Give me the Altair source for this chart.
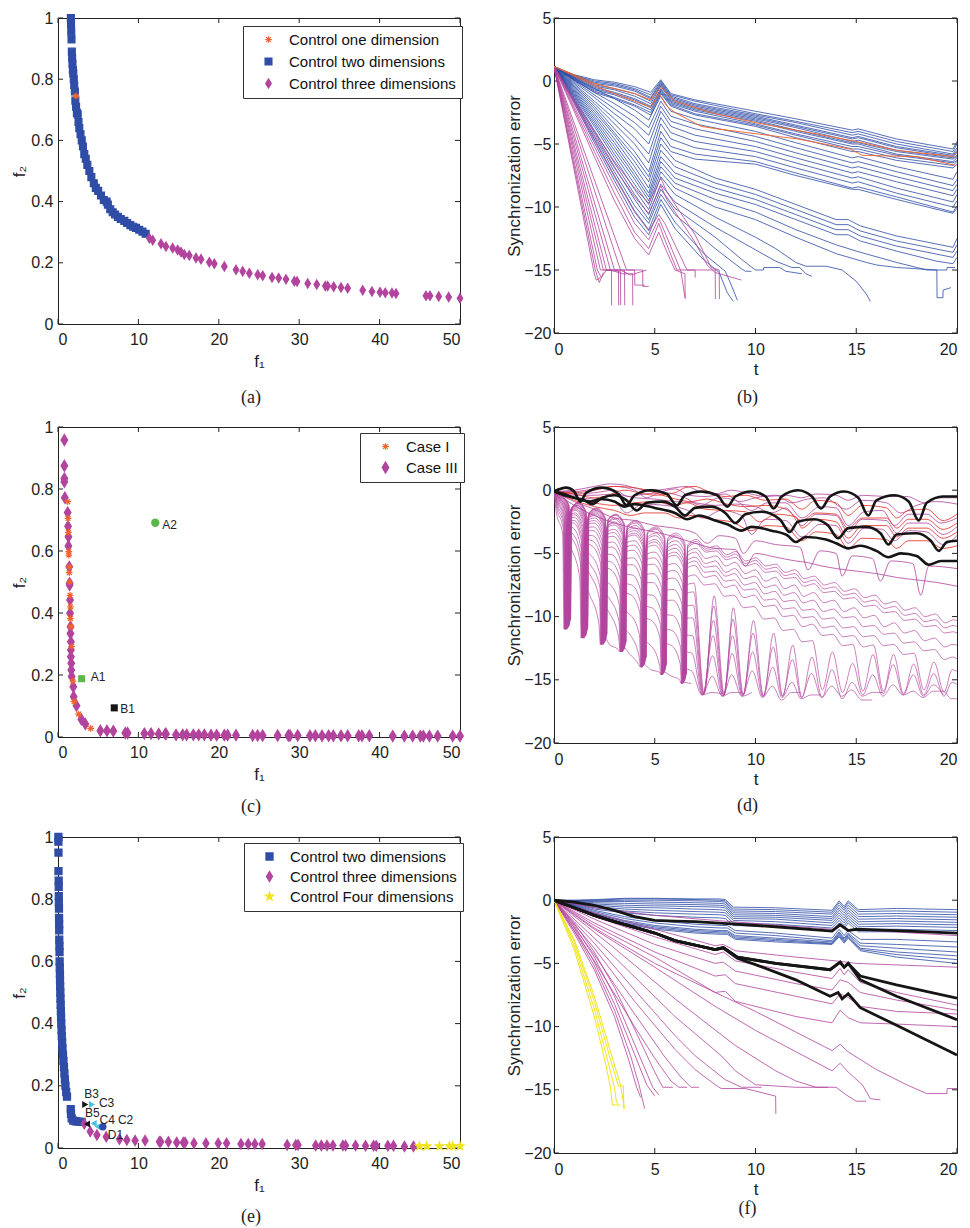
import altair as alt
import pandas as pd

FONT = "Liberation Sans"
SERIF = "Liberation Serif"
INK = "#222222"

BLUE = "#2F4DA6"
MAGENTA = "#B2449D"
ORANGE = "#F0642C"
RED = "#E5352B"
BLACK = "#151515"
YELLOW = "#F0E31C"
GREEN = "#5DB84B"
CYAN = "#4CC3DB"

DIAMOND = "M0,-1.3L0.78,0L0,1.3L-0.78,0Z"
ASTERISK = "M-1,0L1,0M0,-1L0,1M-0.72,-0.72L0.72,0.72M-0.72,0.72L0.72,-0.72"
STAR = "M0,-1L0.23,-0.32L0.95,-0.31L0.37,0.12L0.59,0.81L0,0.4L-0.59,0.81L-0.37,0.12L-0.95,-0.31L-0.23,-0.32Z"

F1_TICKS = [0, 10, 20, 30, 40, 50]
F2_TICKS = [0, 0.2, 0.4, 0.6, 0.8, 1]
T_TICKS = [0, 5, 10, 15, 20]
E_TICKS = [-20, -15, -10, -5, 0, 5]

# ---------------- (a) Pareto fronts by number of controlled dimensions ----------------
A_ONE_F1 = [2.24]
A_ONE_F2 = [0.745]
A_TWO_F1 = [1.60, 1.62, 1.65, 1.68, 1.72, 1.76, 1.80, 1.85, 1.90, 1.96, 2.02, 2.10, 2.16, 2.25,
            2.35, 2.45, 2.55, 2.65, 2.80, 2.95, 3.10, 3.27, 3.45, 3.65, 3.90, 4.15, 4.45, 4.70,
            5.00, 5.35, 5.70, 6.05, 6.20, 6.50, 6.80, 7.10, 7.45, 7.80, 8.25, 8.60, 9.00, 9.35,
            9.70, 10.10, 10.50, 10.90]
A_TWO_F2 = [1.00, 0.98, 0.955, 0.93, 0.89, 0.87, 0.85, 0.83, 0.82, 0.80, 0.78, 0.76, 0.73, 0.71,
            0.69, 0.685, 0.66, 0.64, 0.62, 0.60, 0.58, 0.555, 0.54, 0.52, 0.50, 0.48, 0.46, 0.445,
            0.435, 0.42, 0.405, 0.40, 0.39, 0.375, 0.365, 0.358, 0.35, 0.343, 0.337, 0.33, 0.323,
            0.318, 0.314, 0.308, 0.302, 0.295]
A_THREE_F1 = [11.36, 11.78, 12.81, 13.43, 14.26, 14.88, 15.30, 15.71, 16.33, 17.16, 17.79, 18.82,
              19.44, 20.69, 22.14, 22.97, 23.80, 24.84, 25.46, 26.62, 27.45, 28.36, 29.39, 29.73,
              31.06, 32.18, 33.25, 33.54, 34.29, 35.20, 36.03, 37.90, 39.05, 40.05, 40.71, 41.54,
              42.04, 45.77, 46.27, 47.35, 48.59, 50.00]
A_THREE_F2 = [0.280, 0.274, 0.262, 0.253, 0.248, 0.242, 0.235, 0.227, 0.224, 0.216, 0.212, 0.202,
              0.197, 0.188, 0.177, 0.172, 0.166, 0.161, 0.158, 0.152, 0.150, 0.146, 0.140, 0.139,
              0.132, 0.129, 0.124, 0.124, 0.122, 0.119, 0.117, 0.110, 0.106, 0.104, 0.102, 0.101,
              0.100, 0.092, 0.092, 0.090, 0.088, 0.084]

# ---------------- (c) Case I vs Case III ----------------
C_ONE_F1 = [1.20, 1.25, 1.30, 1.35, 1.35, 1.40, 1.40, 1.45, 1.50, 1.55, 1.55, 1.60, 1.70, 1.85,
            2.00, 2.57, 4.06]
C_ONE_F2 = [0.759, 0.705, 0.660, 0.598, 0.587, 0.549, 0.530, 0.500, 0.457, 0.420, 0.382, 0.356,
            0.292, 0.180, 0.114, 0.074, 0.028]
C_THREE_F1 = [0.79, 0.79, 0.79, 0.79, 0.85, 1.20, 1.25, 1.30, 1.30, 1.40, 1.45, 1.45, 1.50, 1.50,
              1.55, 1.55, 1.60, 1.60, 1.60, 1.65, 1.65, 1.70, 1.90, 1.95, 2.30, 2.90, 3.40,
              5.27, 6.09, 6.88, 8.37, 8.66, 10.74, 11.57, 12.52, 13.35, 13.43, 14.68, 15.51, 16.00,
              16.83, 17.50, 18.20, 19.03, 19.73, 20.69, 21.10, 22.14, 24.21, 24.83, 25.45, 27.32,
              28.65, 28.86, 29.81, 31.34, 32.01, 32.84, 33.66, 34.25, 35.20, 36.03, 37.40, 37.81,
              38.72, 41.63, 43.08, 44.11, 45.07, 45.44, 46.19, 47.22, 49.09, 50.00]
C_THREE_F2 = [0.958, 0.875, 0.834, 0.823, 0.772, 0.724, 0.680, 0.646, 0.616, 0.549, 0.496, 0.490,
              0.442, 0.399, 0.356, 0.334, 0.307, 0.281, 0.259, 0.238, 0.216, 0.195, 0.162, 0.130,
              0.101, 0.057, 0.042,
              0.020, 0.020, 0.019, 0.013, 0.013, 0.011, 0.011, 0.010, 0.010, 0.010, 0.007, 0.007,
              0.007, 0.007, 0.007, 0.007, 0.006, 0.006, 0.006, 0.006, 0.006, 0.005, 0.005, 0.005,
              0.005, 0.005, 0.005, 0.005, 0.004, 0.004, 0.004, 0.004, 0.004, 0.004, 0.004, 0.004,
              0.004, 0.004, 0.003, 0.003, 0.003, 0.003, 0.003, 0.003, 0.003, 0.003, 0.003]
C_A1 = (2.94, 0.188)
C_A2 = (12.10, 0.691)
C_B1 = (7.00, 0.094)

# ---------------- (e) two / three / four controlled dimensions ----------------
E_TWO_F1 = [0.05, 0.05, 0.06, 0.06, 0.08, 0.09, 0.10, 0.11, 0.12, 0.13, 0.14, 0.15, 0.16, 0.18,
            0.19, 0.20, 0.22, 0.24, 0.25, 0.27, 0.29, 0.31, 0.33, 0.36, 0.38, 0.41, 0.44, 0.47,
            0.52, 0.56, 0.62, 0.68, 0.74, 0.80, 0.86, 0.93, 1.02, 1.12, 1.58, 1.62, 1.70, 1.90,
            2.20, 2.55, 2.95]
E_TWO_F2 = [1.00, 0.985, 0.95, 0.89, 0.86, 0.84, 0.81, 0.79, 0.77, 0.74, 0.72, 0.70, 0.67, 0.65,
            0.63, 0.60, 0.58, 0.56, 0.54, 0.52, 0.50, 0.48, 0.46, 0.44, 0.42, 0.40, 0.38, 0.36,
            0.34, 0.32, 0.30, 0.28, 0.26, 0.24, 0.22, 0.20, 0.18, 0.165, 0.125, 0.11, 0.095, 0.088,
            0.086, 0.085, 0.084]
E_THREE_F1 = [3.27, 4.01, 4.84, 6.00, 7.65, 8.56, 9.59, 10.83, 12.61, 12.78, 13.73, 14.76, 15.59,
              15.80, 16.91, 18.40, 19.93, 20.97, 22.75, 23.66, 24.48, 25.39, 28.50, 29.57, 29.86,
              32.05, 32.75, 33.46, 34.20, 35.44, 35.77, 37.01, 38.25, 39.25, 39.58, 41.03, 41.73,
              43.09, 44.21]
E_THREE_F2 = [0.078, 0.053, 0.042, 0.036, 0.028, 0.026, 0.024, 0.024, 0.020, 0.020, 0.020, 0.018,
              0.018, 0.018, 0.015, 0.015, 0.015, 0.015, 0.013, 0.013, 0.013, 0.013, 0.010, 0.010,
              0.010, 0.008, 0.008, 0.008, 0.008, 0.008, 0.008, 0.008, 0.007, 0.007, 0.007, 0.007,
              0.007, 0.005, 0.005]
E_FOUR_F1 = [44.96, 45.87, 47.44, 48.68, 49.09, 50.00]
E_FOUR_F2 = [0.006, 0.006, 0.006, 0.006, 0.006, 0.006]
E_MARKS = {
    "B3": (3.39, 0.140), "C3": (4.22, 0.140), "B5": (3.60, 0.077),
    "C4": (4.43, 0.079), "C2": (4.96, 0.068), "D1": (5.58, 0.068),
}

# ---------------- (b) synchronization error traces ----------------
B_BLUE = [
    [(0, 1.15), (1, 0.5), (2, 0.1), (3, -0.1), (4, -0.45), (4.8, -0.9), (5.3, 0.1), (5.8, -1.0), (7, -1.5), (10, -2.4), (12, -3.0), (14.8, -3.9), (15.1, -3.8), (17, -4.6), (19.8, -5.4), (20, -4.8)],
    [(0, 1.15), (1, 0.45), (2, 0.0), (3, -0.2), (4, -0.6), (4.8, -1.1), (5.3, 0.0), (5.8, -1.1), (7, -1.6), (10, -2.6), (12, -3.2), (14.8, -4.1), (15.1, -4.0), (17, -4.8), (19.8, -5.6), (20, -5.0)],
    [(0, 1.15), (1, 0.42), (2, -0.1), (3, -0.3), (4, -0.7), (4.8, -1.3), (5.3, -0.1), (5.8, -1.2), (7, -1.8), (10, -2.7), (12, -3.3), (14.8, -4.3), (15.1, -4.2), (17, -5.0), (19.8, -5.8), (20, -5.3)],
    [(0, 1.15), (1, 0.38), (2, -0.2), (3, -0.4), (4, -0.8), (4.8, -1.4), (5.3, -0.2), (5.8, -1.3), (7, -1.9), (10, -2.8), (12, -3.5), (14.8, -4.5), (15.1, -4.4), (17, -5.2), (19.8, -5.9), (20, -5.5)],
    [(0, 1.15), (1, 0.35), (2, -0.3), (3, -0.6), (4, -1.0), (4.8, -1.6), (5.3, -0.3), (5.8, -1.4), (7, -2.0), (10, -2.9), (12, -3.6), (14.8, -4.6), (15.1, -4.5), (17, -5.3), (19.8, -6.0), (20, -5.7)],
    [(0, 1.15), (1, 0.3), (2, -0.4), (3, -0.7), (4, -1.2), (4.8, -1.8), (5.3, -0.4), (5.8, -1.5), (7, -2.1), (10, -3.0), (12, -3.7), (14.8, -4.8), (15.1, -4.7), (17, -5.5), (19.8, -6.1), (20, -5.9)],
    [(0, 1.15), (1, 0.25), (2, -0.5), (3, -0.9), (4, -1.4), (4.8, -2.0), (5.3, -0.6), (5.8, -1.6), (7, -2.2), (10, -3.1), (12, -3.9), (14.8, -4.9), (15.1, -4.9), (17, -5.6), (19.8, -6.2), (20, -6.0)],
    [(0, 1.15), (1, 0.2), (2, -0.6), (3, -1.0), (4, -1.5), (4.8, -2.1), (5.3, -0.7), (5.8, -1.7), (7, -2.3), (10, -3.2), (12, -4.0), (14.8, -5.0), (15.1, -5.0), (17, -5.8), (19.8, -6.4), (20, -6.1)],
    [(0, 1.15), (1, 0.15), (2, -0.7), (3, -1.1), (4, -1.7), (4.8, -2.3), (5.3, -0.8), (5.8, -1.8), (7, -2.4), (10, -3.4), (12, -4.2), (14.8, -5.2), (15.1, -5.2), (17, -5.9), (19.8, -6.5), (20, -6.3)],
    [(0, 1.15), (1, 0.1), (2, -0.8), (3, -1.3), (4, -1.9), (4.8, -2.5), (5.3, -0.9), (5.8, -1.9), (7, -2.6), (10, -3.5), (12, -4.3), (14.8, -5.4), (15.1, -5.4), (17, -6.1), (19.8, -6.7), (20, -6.4)],
    [(0, 1.15), (1, 0.05), (2, -0.9), (3, -1.4), (4, -2.0), (4.8, -2.7), (5.3, -1.0), (5.8, -2.0), (7, -2.7), (10, -3.6), (12, -4.5), (14.8, -5.6), (15.1, -5.6), (17, -6.3), (19.8, -6.9), (20, -6.6)],
    [(0, 1.15), (1, 0.2), (2, -0.6), (3, -1.4), (4, -2.3), (4.7, -3.1), (5.3, -1.2), (5.8, -2.4), (7, -3.0), (10, -4.0), (12, -4.9), (14.8, -6.1), (15.1, -6.0), (17, -6.8), (19.8, -7.8), (20, -7.2)],
    [(0, 1.15), (1, 0.1), (2, -0.9), (3, -1.8), (4, -2.8), (4.7, -3.7), (5.3, -1.6), (5.8, -2.8), (7, -3.4), (10, -4.4), (12, -5.3), (14.8, -6.5), (15.1, -6.4), (17, -7.2), (19.8, -8.3), (20, -7.8)],
    [(0, 1.15), (1, 0.0), (2, -1.1), (3, -2.2), (4, -3.3), (4.7, -4.3), (5.3, -2.0), (5.8, -3.2), (7, -3.8), (10, -4.8), (12, -5.7), (14.8, -6.9), (15.1, -6.8), (17, -7.6), (19.8, -8.7), (20, -8.2)],
    [(0, 1.15), (1, -0.1), (2, -1.3), (3, -2.6), (4, -3.8), (4.7, -5.0), (5.3, -2.4), (5.8, -3.6), (7, -4.3), (10, -5.2), (12, -6.1), (14.8, -7.3), (15.1, -7.2), (17, -8.0), (19.8, -9.1), (20, -8.6)],
    [(0, 1.15), (1, -0.2), (2, -1.6), (3, -3.0), (4, -4.5), (4.7, -5.8), (5.3, -2.9), (5.8, -4.1), (7, -4.8), (10, -5.6), (12, -6.5), (14.8, -7.7), (15.1, -7.6), (17, -8.5), (19.8, -9.6), (20, -9.0)],
    [(0, 1.15), (1, -0.3), (2, -1.8), (3, -3.4), (4, -5.0), (4.7, -6.5), (5.3, -3.4), (5.8, -4.6), (7, -5.3), (10, -6.0), (12, -6.9), (14.8, -8.1), (15.1, -8.0), (17, -8.9), (19.8, -10.0), (20, -9.5)],
    [(0, 1.15), (1, -0.4), (2, -2.0), (3, -3.8), (4, -5.6), (4.7, -7.2), (5.3, -4.0), (5.8, -5.2), (7, -5.8), (10, -6.4), (12, -7.3), (14.8, -8.5), (15.1, -8.4), (17, -9.2), (19.8, -10.4), (20, -9.9)],
    [(0, 1.15), (1, -0.5), (2, -2.2), (3, -4.1), (4, -6.0), (4.7, -7.6), (5.3, -4.5), (5.8, -5.6), (7, -6.2), (10, -6.6), (12, -7.5), (14.8, -8.6), (15.1, -8.6), (17, -9.4), (19.8, -10.5), (20, -10.1)],
    [(0, 1.15), (1, -0.6), (2, -2.4), (3, -4.3), (4, -6.4), (4.7, -8.0), (5.3, -5.0), (6, -6.3), (8, -7.7), (10, -8.6), (12, -9.8), (14, -11.0), (14.6, -11.0), (15.2, -11.5), (17, -12.3), (19.8, -13.2), (20, -12.5)],
    [(0, 1.15), (1, -0.7), (2, -2.6), (3, -4.6), (4, -6.8), (4.7, -8.5), (5.3, -5.5), (6, -6.8), (8, -8.1), (10, -9.0), (12, -10.2), (14, -11.4), (14.6, -11.4), (15.2, -11.9), (17, -12.7), (19.8, -13.6), (20, -13.0)],
    [(0, 1.15), (1, -0.8), (2, -2.8), (3, -4.9), (4, -7.2), (4.7, -8.9), (5.3, -6.0), (6, -7.3), (8, -8.5), (10, -9.4), (12, -10.6), (14, -11.8), (14.6, -11.8), (15.2, -12.3), (17, -13.1), (19.8, -14.0), (20, -13.5)],
    [(0, 1.15), (1, -0.9), (2, -3.0), (3, -5.2), (4, -7.5), (4.7, -9.2), (5.3, -6.4), (6, -7.7), (8, -8.9), (10, -9.8), (12, -11.0), (14, -12.2), (14.6, -12.2), (15.2, -12.7), (17, -13.5), (19, -14.3), (19.8, -14.5), (20, -14.0)],
    [(0, 1.15), (1, -1.0), (2, -3.2), (3, -5.5), (4, -7.8), (4.7, -9.5), (5.3, -6.8), (6, -8.1), (8, -9.4), (10, -10.4), (12, -11.8), (14, -13.0), (15, -13.5), (17, -14.4), (18, -14.8), (18.5, -15.0), (19.5, -15.0), (19.51, -14.8), (19.9, -14.8)],
    [(0, 1.15), (1, -1.1), (2, -3.4), (3, -5.8), (4, -8.2), (4.7, -9.8), (5.3, -7.2), (6, -8.5), (8, -10.0), (10, -11.0), (12, -12.4), (14, -13.7), (15.5, -14.4), (16, -14.6), (17, -14.8), (19, -15.0), (19.01, -17.2), (19.3, -17.2), (19.31, -16.6), (19.7, -16.4)],
    [(0, 1.15), (1, -1.2), (2, -3.6), (3, -6.1), (4, -8.6), (4.7, -10.2), (5.3, -7.6), (6, -9.0), (8, -10.8), (10, -12.4), (11, -13.3), (12, -14.4), (12.5, -14.7), (13.5, -14.7), (14.3, -15.0), (15, -15.9), (15.5, -16.9), (15.7, -17.5)],
    [(0, 1.15), (1, -1.3), (2, -3.9), (3, -6.5), (4, -9.0), (4.7, -10.6), (5.3, -8.2), (6, -9.6), (8, -11.6), (10, -13.4), (11, -14.3), (11.8, -14.8), (12.2, -14.8), (12.5, -15.3), (12.8, -15.5)],
    [(0, 1.15), (1, -1.4), (2, -4.1), (3, -6.8), (4, -9.4), (4.7, -11.0), (5.3, -8.6), (6, -10.1), (8, -12.4), (9.5, -14.4), (10, -15.0), (10.4, -15.0), (10.41, -14.8), (11.2, -14.8), (11.5, -15.1), (12.3, -15.3)],
    [(0, 1.15), (1, -1.5), (2, -4.4), (3, -7.2), (4, -9.9), (4.7, -11.3), (5.3, -9.0), (6, -10.6), (8, -13.3), (9.3, -14.9), (9.5, -15.1), (9.8, -15.1)],
    [(0, 1.15), (1, -1.6), (2, -4.6), (3, -7.5), (4, -10.3), (4.7, -11.8), (5.3, -9.4), (6, -11.2), (7.5, -13.8), (8.5, -15.1), (8.8, -16.2), (9.1, -17.4)],
    [(0, 1.15), (1, -1.7), (2, -4.9), (3, -7.9), (4, -10.8), (4.7, -12.2), (5.3, -9.8), (6, -11.7), (7.3, -14.0), (8.2, -15.2), (8.6, -16.8), (8.9, -17.5)],
]
B_ORANGE = [
    [(0, 1.15), (1, 0.4), (1.9, -0.3), (3, -1.0), (4, -1.6), (4.8, -2.1), (5.2, -1.0), (5.6, -2.0), (6, -2.5), (7.3, -3.6), (8.1, -3.8), (10.1, -4.2), (12.1, -4.6), (14.7, -5.4), (15.3, -5.9), (18, -6.0), (19.95, -6.7)],
    [(0, 1.15), (2, -0.2), (4, -1.0), (4.8, -1.5), (5.3, -0.5), (6, -1.6), (8, -2.6), (10, -3.3), (12, -3.9), (15, -4.8), (17, -5.5), (19.8, -6.0), (20, -5.6)],
]
B_MAGENTA = [
    [(0, 1.15), (2.0, -15.3), (2.1, -15.8), (2.3, -15.6)],
    [(0, 1.15), (2.05, -15.0), (2.25, -16.0), (2.45, -15.2)],
    [(0, 1.15), (2.15, -15.0), (2.35, -15.6), (2.6, -15.0), (2.85, -15.0), (2.86, -17.8)],
    [(0, 1.15), (2.3, -15.0), (3.2, -15.0), (3.21, -17.8)],
    [(0, 1.15), (2.45, -15.0), (3.3, -15.1), (3.31, -17.8)],
    [(0, 1.15), (2.6, -15.0), (3.5, -15.0), (3.51, -17.8)],
    [(0, 1.15), (2.8, -15.0), (3.4, -15.3), (3.9, -15.3), (3.91, -17.8)],
    [(0, 1.15), (3.0, -15.0), (4.0, -15.0), (4.01, -16.2), (4.5, -16.2)],
    [(0, 1.15), (3.3, -15.0), (3.8, -15.4), (4.6, -15.0)],
    [(0, 1.15), (3.6, -15.0), (4.4, -15.0), (4.41, -16.3), (4.7, -16.3)],
    [(0, 1.15), (1, -2.4), (2, -6.0), (3, -9.5), (4, -12.5), (4.7, -13.8), (5.2, -12.0), (5.5, -13.2), (6.0, -15.0), (6.5, -15.3), (6.51, -17.3)],
    [(0, 1.15), (1, -2.2), (2, -5.6), (3, -8.9), (4, -12.0), (4.7, -13.3), (5.2, -11.3), (5.5, -12.6), (6.1, -15.0), (7.0, -15.0), (7.01, -15.6)],
    [(0, 1.15), (1, -2.0), (2, -5.2), (3, -8.3), (4, -11.3), (4.7, -12.6), (5.2, -10.9), (5.5, -12.0), (6.3, -15.1), (6.5, -17.2)],
    [(0, 1.15), (1, -1.8), (2, -4.7), (3, -7.6), (4, -10.4), (4.7, -11.9), (5.2, -10.6), (5.5, -11.3), (6.6, -15.0), (8.0, -15.0), (8.01, -17.3)],
    [(0, 1.15), (1, -1.5), (2, -4.0), (3, -6.4), (4, -8.5), (4.7, -9.7), (5.3, -7.7), (5.6, -8.8), (7, -12.2), (7.8, -14.8), (8.2, -15.0), (8.21, -17.3)],
    [(0, 1.15), (1, -1.6), (2, -4.3), (3, -6.9), (4, -9.2), (4.7, -10.5), (5.3, -8.3), (5.6, -9.4), (7, -12.8), (7.6, -14.6), (8.0, -15.2), (9.3, -15.8)],
]

# ---------------- (d) oscillating error traces ----------------
# early part: arc tops, sharp zeros of the oscillation and the shoulders either side of them
D_HEAD_T = [0, 0.3, 0.63, 0.7, 0.77, 1.1, 1.48, 1.55, 1.62, 2.0, 2.43, 2.5, 2.57, 2.95, 3.38,
            3.45, 3.52, 3.95, 4.38, 4.45, 4.52, 4.95, 5.38, 5.45, 5.52, 5.95, 6.38, 6.45, 6.52,
            6.95]
D_TAIL_T = [7.45, 7.95, 8.45, 8.9, 9.4, 9.9, 10.4, 10.9, 11.35, 11.85, 12.3, 12.8, 13.3, 13.8,
            14.3, 14.8, 15.3, 15.8, 16.3, 16.8, 17.3, 17.8, 18.3, 18.8, 19.3, 19.7, 20.0]
# tops and zeros on the grid 0, 0.3, 0.7, 1.1, 1.55, ... 6.95, followed by the later samples
D_FAN = [
    [-0.1, -0.45, -10.2, -0.95, -10.9, -1.4, -11.4, -1.9, -12.0, -2.4, -13.2, -2.9, -13.8, -3.4, -14.5, -3.9, -4.6, -4.4, -5.1, -4.85, -5.6, -5.35, -6.0, -5.85, -6.5, -6.3, -7.0, -6.8, -7.5, -7.3, -8.0, -7.8, -8.5, -8.3, -9.0, -8.8, -9.5, -9.3, -10.0, -9.8, -10.5, -10.25, -10.4],
    [-0.1, -0.5, -10.3, -1.0, -11.0, -1.5, -11.5, -2.0, -12.1, -2.6, -13.3, -3.1, -13.9, -3.7, -14.6, -4.2, -4.9, -4.8, -5.5, -5.3, -6.0, -5.8, -6.5, -6.4, -7.0, -6.9, -7.6, -7.4, -8.1, -8.0, -8.6, -8.5, -9.2, -9.1, -9.7, -9.6, -10.3, -10.2, -10.8, -10.7, -11.3, -11.2, -11.4],
    [-0.1, -0.5, -10.4, -1.05, -11.1, -1.6, -11.6, -2.2, -12.2, -2.8, -13.4, -3.4, -14.0, -4.0, -14.7, -4.6, -5.4, -5.2, -6.0, -5.7, -6.6, -6.3, -7.2, -6.9, -7.8, -7.5, -8.4, -8.1, -8.9, -8.7, -9.6, -9.3, -10.1, -9.9, -10.8, -10.5, -11.3, -11.1, -11.9, -11.7, -12.4, -12.2, -12.3],
    [-0.1, -0.55, -10.5, -1.1, -11.2, -1.7, -11.7, -2.3, -12.3, -3.0, -13.5, -3.6, -14.1, -4.3, -14.8, -4.9, -5.8, -5.6, -6.5, -6.2, -7.0, -6.8, -7.7, -7.5, -8.3, -8.1, -8.9, -8.7, -9.6, -9.4, -10.1, -10.0, -10.8, -10.7, -11.4, -11.3, -12.1, -12.0, -12.7, -12.6, -13.4, -13.2, -13.4],
    [-0.1, -0.6, -10.6, -1.2, -11.3, -1.8, -11.8, -2.5, -12.4, -3.2, -13.6, -3.9, -14.2, -4.6, -14.9, -5.3, -6.1, -6.0, -6.8, -6.6, -7.5, -7.3, -8.2, -8.0, -8.8, -8.7, -9.5, -9.4, -10.2, -10.1, -10.9, -10.8, -11.6, -11.5, -12.3, -12.2, -13.0, -12.9, -15.8, -13.6, -16.0, -14.2, -14.4],
    [-0.1, -0.65, -10.7, -1.2, -11.4, -1.9, -11.9, -2.6, -12.5, -3.4, -13.7, -4.1, -14.3, -4.9, -15.0, -5.6, -6.5, -6.4, -7.2, -7.1, -7.9, -7.8, -8.7, -8.6, -9.4, -9.3, -10.1, -10.0, -10.9, -10.75, -11.6, -11.5, -12.4, -12.25, -15.9, -13.0, -16.1, -13.75, -16.2, -14.5, -16.3, -15.2, -15.4],
    [-0.1, -0.7, -10.8, -1.4, -11.5, -2.2, -12.0, -3.1, -12.6, -4.0, -13.8, -4.9, -14.4, -5.8, -15.1, -6.7, -7.5, -7.4, -8.4, -8.3, -9.3, -9.2, -10.2, -10.1, -11.1, -11.0, -12.0, -11.9, -15.8, -12.8, -16.0, -13.7, -16.2, -14.6, -16.3, -15.4, -16.2, -15.9, -16.4, -15.9, -15.9, -16.5, -16.5],
    [-0.1, -0.7, -10.85, -1.5, -11.55, -2.4, -12.05, -3.35, -12.65, -4.35, -13.85, -5.35, -14.45, -6.35, -15.15, -7.35, -16.1, -8.35, -16.2, -9.3, -16.2, -10.3, -16.3, -11.3, -16.3, -12.25, -16.4, -13.2, -16.4, -14.2, -16.5, -15.2, -16.3, -16.0, -16.0],
    [-0.1, -0.75, -10.9, -1.6, -11.6, -2.6, -12.1, -3.65, -12.7, -4.75, -13.9, -5.85, -14.5, -6.95, -15.2, -8.05, -16.1, -9.15, -16.2, -10.2, -16.2, -11.3, -16.3, -12.4, -16.3, -13.4, -16.4, -14.5, -16.4, -15.5, -16.3, -15.8, -16.6, -16.6],
    [-0.1, -0.78, -10.95, -1.8, -11.65, -2.9, -12.15, -4.1, -12.75, -5.35, -13.95, -6.6, -14.55, -7.85, -15.25, -9.1, -16.15, -10.3, -16.25, -11.5, -16.25, -12.8, -16.35, -14.0, -16.4, -15.2, -16.5, -16.2, -16.2],
    [-0.1, -0.8, -11.0, -1.95, -11.7, -3.2, -12.2, -4.5, -12.8, -5.9, -14.0, -7.3, -14.6, -8.7, -15.3, -10.1, -16.2, -11.5, -16.3, -12.9, -16.3, -14.3, -16.4, -15.5, -16.6, -16.0, -16.0],
    [-0.1, -0.95, -11.0, -2.4, -11.7, -4.0, -12.2, -5.7, -12.8, -7.5, -14.0, -9.3, -14.6, -11.1, -15.3, -12.9, -16.2, -14.7, -16.3, -16.0, -16.0],
    [-0.1, -1.0, -11.0, -2.6, -11.7, -4.4, -12.2, -6.3, -12.8, -8.3, -14.0, -10.3, -14.6, -12.3, -15.3, -14.3, -16.2, -16.0, -16.1],
    [-0.1, -1.1, -11.0, -3.0, -11.7, -5.2, -12.2, -7.5, -12.8, -9.9, -14.0, -12.3, -14.6, -14.7, -15.3, -15.3],
    [-0.1, -1.4, -11.0, -3.9, -11.7, -6.8, -12.2, -9.8, -12.8, -13.0, -14.0],
    [-0.1, -0.68, -10.75, -1.3, -11.45, -2.0, -11.95, -2.75, -12.55, -3.55, -13.75, -4.35, -14.35, -5.15, -15.05, -5.95, -6.9, -6.75, -7.7, -7.5, -8.5, -8.3, -9.2, -9.1, -10.0, -9.9, -10.8, -10.6, -11.5, -11.4, -12.3, -12.2, -15.9, -13.0, -16.1, -13.8, -16.2, -14.6, -16.3, -15.4, -16.2],
    [-0.1, -0.88, -11.0, -2.15, -11.7, -3.6, -12.2, -5.1, -12.8, -6.7, -14.0, -8.3, -14.6, -9.9, -15.3, -11.5, -16.2, -13.1, -16.3, -14.6, -16.3, -16.0],
    [-0.1, -1.25, -11.0, -3.5, -11.7, -6.0, -12.2, -8.7, -12.8, -11.5, -14.0, -14.2, -14.6],
    [-0.1, -1.6, -11.0, -4.8, -11.7, -8.4, -12.2, -12.2, -12.8],
    [-0.1, -0.47, -10.25, -0.97, -10.95, -1.45, -11.45, -1.95, -12.05, -2.5, -13.25, -3.0, -13.85, -3.55, -14.55, -4.05, -4.75, -4.6, -5.3, -5.05, -5.8, -5.55, -6.25, -6.1, -6.75, -6.6, -7.3, -7.1, -7.8, -7.65, -8.3, -8.15, -8.85, -8.7, -9.35, -9.2, -9.9, -9.75, -10.4, -10.25, -10.9, -10.7, -10.9],
]
# shoulder levels just before / just after each early zero: B0, A1, B1, A2, ... B6, A7
D_FAN_SHOULDERS = [
    [-1.22, -1.38, -1.75, -1.8, -2.2, -2.3, -2.7, -2.8, -3.2, -3.3, -3.7, -3.8, -4.2, -4.3],
    [-1.28, -1.42, -1.82, -1.88, -2.32, -2.38, -2.82, -2.98, -3.42, -3.48, -3.92, -4.08, -4.52, -4.58],
    [-1.3, -1.45, -1.89, -1.96, -2.44, -2.56, -3.04, -3.16, -3.64, -3.76, -4.24, -4.36, -4.84, -4.96],
    [-1.36, -1.49, -1.96, -2.04, -2.56, -2.64, -3.16, -3.34, -3.86, -3.94, -4.46, -4.64, -5.16, -5.24],
    [-1.43, -1.57, -2.08, -2.12, -2.68, -2.82, -3.38, -3.52, -4.08, -4.22, -4.78, -4.92, -5.48, -5.62],
    [-1.5, -1.55, -2.1, -2.2, -2.8, -2.9, -3.5, -3.7, -4.3, -4.4, -5.0, -5.2, -5.8, -5.9],
    [-1.6, -1.7, -2.36, -2.44, -3.16, -3.34, -4.06, -4.24, -4.96, -5.14, -5.86, -6.04, -6.76, -6.94],
    [-1.63, -1.77, -2.5, -2.6, -3.4, -3.55, -4.35, -4.55, -5.35, -5.55, -6.35, -6.55, -7.35, -7.55],
    [-1.71, -1.84, -2.64, -2.76, -3.64, -3.81, -4.69, -4.91, -5.79, -6.01, -6.89, -7.11, -7.99, -8.21],
    [-1.79, -1.99, -2.9, -3.0, -4.0, -4.2, -5.2, -5.45, -6.45, -6.7, -7.7, -7.95, -8.95, -9.2],
    [-1.86, -2.09, -3.11, -3.24, -4.36, -4.54, -5.66, -5.94, -7.06, -7.34, -8.46, -8.74, -9.86, -10.14],
    [-2.14, -2.41, -3.72, -3.88, -5.32, -5.58, -7.02, -7.38, -8.82, -9.18, -10.62, -10.98, -12.42, -12.78],
    [-2.26, -2.54, -4.0, -4.2, -5.8, -6.1, -7.7, -8.1, -9.7, -10.1, -11.7, -12.1, -13.7, -14.1],
    [-2.49, -2.81, -4.56, -4.84, -6.76, -7.14, -9.06, -9.54, -11.46, -11.94, -13.86, -14.34, -15.0, -15.2],
    [-3.06, -3.44, -5.78, -6.12, -8.68, -9.12, -11.68, -12.32, -13.8],
    [-1.54, -1.64, -2.22, -2.28, -2.92, -3.03, -3.67, -3.83, -4.47, -4.63, -5.27, -5.43, -6.07, -6.23],
    [-2.01, -2.22, -3.39, -3.56, -4.84, -5.06, -6.34, -6.66, -7.94, -8.26, -9.54, -9.86, -11.14, -11.46],
    [-2.77, -3.18, -5.22, -5.48, -7.72, -8.18, -10.42, -10.98, -13.22, -13.68, -14.4],
    [-3.52, -4.08, -7.0, -7.4, -10.6, -11.2, -12.6],
    [-1.24, -1.4, -1.78, -1.84, -2.26, -2.34, -2.76, -2.89, -3.31, -3.39, -3.81, -3.94, -4.36, -4.44],
]
# per-trace timing offsets of the oscillation zeros
D_FAN_SHIFT = [0.12, 0.10, 0.09, 0.07, 0.06, 0.05, 0.02, 0.0, -0.02, -0.04, -0.06, -0.10,
               -0.12, -0.14, -0.17, 0.03, -0.08, -0.15, -0.20, 0.11]
D_MAGENTA_TOP = [
    [(0, -0.1), (1, 0.0), (2, 0.3), (2.8, 0.5), (3.5, 0.4), (4.2, 0.1), (5, 0.0), (6, 0.2), (6.6, 0.3), (7.2, -0.1), (8, -0.3), (8.8, 0.0), (9.5, -0.2), (10.5, -0.5), (11.5, -0.4), (12.3, -0.6), (13, -0.3), (14, -0.4), (14.6, -0.8), (15.3, -0.4), (16.5, -0.5), (17.5, -0.5), (18.4, -1.0), (19, -0.6), (20, -0.6)],
    [(0, -0.1), (1, -0.1), (2, 0.1), (3, 0.3), (4, 0.0), (4.6, -0.6), (5.2, -0.2), (6, 0.1), (6.7, -0.4), (7.5, -0.5), (8.5, -0.3), (9.2, -0.9), (10, -0.6), (11, -0.4), (11.8, -1.0), (12.6, -0.7), (13.4, -0.6), (14.5, -1.5), (15.3, -0.8), (16.5, -1.0), (17.2, -1.8), (18, -1.2), (19, -0.9), (20, -1.1)],
    [(0, -0.1), (1, -0.3), (2, -0.2), (3, 0.0), (3.7, -0.5), (4.5, -0.3), (5.5, -0.2), (6.5, -0.6), (7.3, -1.2), (8.2, -0.6), (9, -0.8), (9.8, -1.6), (10.6, -1.0), (11.5, -1.0), (12.3, -2.2), (13.2, -1.3), (14, -1.4), (14.6, -2.8), (15.4, -1.7), (16.3, -1.6), (16.9, -2.8), (17.6, -1.9), (18.5, -1.9), (19.2, -2.6), (20, -2.2)],
    [(0, -0.1), (1, -0.4), (2, -0.4), (3, -0.3), (4, -0.6), (5, -0.7), (6, -0.9), (7, -1.0), (8, -1.2), (9, -1.1), (10, -1.3), (10.8, -1.8), (11.5, -1.4), (12.3, -2.8), (13, -1.9), (14, -2.0), (14.6, -3.3), (15.3, -2.3), (16.5, -2.4), (17, -3.4), (17.6, -2.6), (18.5, -2.6), (19.3, -3.5), (20, -2.9)],
    [(0, -0.1), (1, -0.6), (2, -0.7), (3, -0.9), (3.6, -1.8), (4.4, -1.1), (5.5, -1.2), (6.5, -1.5), (7.4, -2.2), (8.3, -1.6), (9.3, -2.0), (9.8, -3.5), (10.5, -2.3), (11.5, -2.4), (12.3, -3.7), (13.2, -2.7), (14, -2.8), (14.6, -4.2), (15.4, -3.0), (16.3, -3.1), (16.9, -4.0), (17.6, -3.2), (18.5, -3.3), (19.3, -4.3), (20, -3.6)],
    [(0, -0.1), (1, -0.9), (2, -1.5), (3, -2.2), (4, -2.4), (5, -2.8), (6, -3.0), (7, -3.4), (7.6, -4.2), (8.2, -3.6), (9, -3.8), (9.4, -5.0), (10, -4.0), (11, -4.3), (12.2, -4.5), (12.6, -6.3), (13.2, -4.8), (14, -5.0), (14.3, -6.8), (14.8, -5.2), (15.8, -5.4), (16.2, -7.2), (16.7, -5.6), (17.8, -5.8), (18.2, -8.3), (18.6, -6.0), (20, -6.2)],
    [(0, -0.1), (1, -1.2), (2, -2.0), (3, -2.6), (4, -3.0), (5, -3.3), (6, -3.7), (7, -4.2), (8, -4.6), (9, -4.7), (9.5, -6.0), (10, -5.0), (11, -5.3), (12, -5.6), (12.5, -5.7), (13.3, -6.0), (14, -6.2), (15, -6.4), (16, -6.6), (17, -6.9), (18, -7.1), (19, -7.3), (20, -7.6)],
]
D_RED = [
    [(0, -0.1), (1, -0.3), (2, -0.6), (2.5, -0.5), (3.5, 0.0), (4.5, -0.3), (5, -0.4), (6, -0.2), (6.5, 0.2), (7, 0.3), (7.5, 0.0), (8.5, -0.5), (9.5, -0.4), (10.5, -0.8), (11.5, -0.7), (12.3, -1.5), (13, -0.8), (14, -1.0), (14.6, -2.0), (15.3, -1.2), (16.5, -1.4), (17, -2.2), (17.6, -1.6), (18.5, -1.5), (19.3, -2.4), (20, -1.9)],
    [(0, -0.1), (1, -0.6), (2, -1.0), (3, -1.2), (4, -1.0), (5, -0.9), (6, -1.2), (6.6, -1.0), (7.5, -1.5), (8.5, -1.6), (9.5, -1.7), (10.2, -2.5), (11, -1.9), (12, -2.1), (12.3, -3.0), (13, -2.3), (14, -2.5), (14.6, -3.8), (15.3, -2.8), (16.5, -2.8), (17, -3.7), (17.6, -3.0), (18.5, -3.0), (19.3, -3.8), (20, -3.3)],
    [(0, -0.1), (1, -0.8), (2, -1.3), (3, -1.6), (3.8, -2.0), (4.5, -1.8), (5.5, -1.8), (6.2, -2.2), (6.8, -2.0), (7.8, -2.3), (8.8, -2.5), (9.8, -3.2), (10.5, -2.8), (11.5, -2.9), (12.3, -4.0), (13, -3.3), (14, -3.5), (14.6, -4.6), (15.3, -3.8), (16.5, -3.9), (17, -4.6), (17.6, -4.0), (18.5, -4.0), (19.3, -4.6), (20, -4.4)],
    [(0, -0.1), (1, -0.2), (2, 0.0), (3, 0.3), (4, 0.2), (5, -0.2), (5.8, -0.6), (6.8, -0.9), (7.6, -0.7), (8.6, -1.1), (9.5, -1.3), (10.5, -1.2), (11.5, -1.5), (12.3, -2.4), (13, -1.8), (14, -1.9), (14.6, -3.0), (15.3, -2.2), (16.5, -2.2), (17, -3.0), (17.6, -2.3), (18.5, -2.3), (19.3, -3.1), (20, -2.6)],
]
D_BLACK = [
    [(0, -0.1), (0.6, 0.2), (1.0, -0.1), (1.3, -0.9), (1.6, -0.2), (2.4, 0.2), (3.2, -0.3), (3.6, -1.2), (4.0, -0.4), (4.8, 0.0), (5.6, -0.3), (6.1, -1.2), (6.5, -0.4), (7.3, -0.1), (8.1, -0.4), (8.6, -1.3), (9.0, -0.5), (9.8, -0.1), (10.5, -0.5), (10.9, -1.45), (11.3, -0.5), (12.1, 0.0), (12.8, -0.5), (13.25, -1.45), (13.7, -0.5), (14.4, -0.1), (15.1, -0.6), (15.6, -2.0), (16.0, -0.8), (16.9, -0.4), (17.6, -0.9), (18.1, -2.4), (18.5, -1.0), (19.3, -0.5), (20, -0.5)],
    [(0, -0.1), (0.5, -0.3), (1.0, -0.6), (1.5, -0.8), (1.9, -1.1), (2.4, -0.6), (3.0, -0.4), (3.6, -0.8), (4.1, -1.6), (4.6, -1.0), (5.4, -0.9), (6.0, -1.3), (6.5, -2.0), (7.0, -1.4), (7.8, -1.3), (8.5, -1.8), (9.0, -2.6), (9.5, -1.9), (10.3, -1.7), (11.2, -2.3), (11.7, -3.3), (12.1, -2.5), (12.9, -2.3), (13.6, -2.8), (14.1, -3.8), (14.6, -3.0), (15.5, -2.9), (16.2, -3.4), (16.6, -4.3), (17.0, -3.5), (18.0, -3.4), (18.7, -4.0), (19.1, -4.8), (19.5, -4.1), (20, -4.0)],
    [(0, -0.1), (0.5, -0.4), (1.0, -0.6), (1.8, -0.9), (2.3, -0.7), (3.0, -0.9), (3.5, -1.3), (4.0, -1.1), (5.0, -1.4), (6.0, -1.8), (6.6, -2.3), (7.2, -2.0), (8.0, -2.4), (8.6, -2.7), (9.3, -3.2), (9.8, -2.9), (10.8, -3.2), (11.6, -3.6), (12.0, -4.1), (12.5, -3.7), (13.5, -3.9), (14.0, -4.2), (14.6, -4.6), (15.2, -4.4), (16.0, -4.8), (16.6, -5.3), (17.2, -5.0), (18.0, -5.2), (18.6, -5.9), (19.2, -5.6), (20, -5.6)],
]

# ---------------- (f) traces for two / three / four dimensions ----------------
F_BLUE = [
    [(0, 0), (1, 0.0), (2, 0.05), (3.5, 0.15), (5, 0.15), (7, 0.1), (8.2, 0.1), (8.5, 0.05), (8.9, -0.55), (11, -0.6), (13.8, -0.8), (14.15, -0.05), (14.4, -0.5), (14.6, -0.05), (15.1, -0.75), (17, -0.65), (20, -0.75)],
    [(0, 0), (1, -0.02), (2, 0.0), (3.5, 0.1), (5, 0.1), (7, 0.05), (8.2, 0.0), (8.5, -0.05), (8.9, -0.7), (11, -0.75), (13.8, -0.95), (14.15, -0.2), (14.4, -0.65), (14.6, -0.2), (15.1, -0.9), (17, -0.85), (20, -0.95)],
    [(0, 0), (1, -0.05), (2, -0.05), (3.5, 0.0), (5, 0.0), (7, -0.05), (8.2, -0.1), (8.5, -0.15), (8.9, -0.85), (11, -0.9), (13.8, -1.1), (14.15, -0.4), (14.4, -0.8), (14.6, -0.4), (15.1, -1.1), (17, -1.05), (20, -1.15)],
    [(0, 0), (1, -0.07), (2, -0.1), (3.5, -0.1), (5, -0.15), (7, -0.2), (8.2, -0.25), (8.5, -0.3), (8.9, -1.0), (11, -1.05), (13.8, -1.3), (14.15, -0.6), (14.4, -1.0), (14.6, -0.6), (15.1, -1.3), (17, -1.25), (20, -1.35)],
    [(0, 0), (1, -0.1), (2, -0.2), (3.5, -0.25), (5, -0.3), (7, -0.35), (8.2, -0.4), (8.5, -0.45), (8.9, -1.15), (11, -1.2), (13.8, -1.45), (14.15, -0.8), (14.4, -1.2), (14.6, -0.8), (15.1, -1.5), (17, -1.45), (20, -1.55)],
    [(0, 0), (1, -0.12), (2, -0.3), (3.5, -0.4), (5, -0.45), (7, -0.5), (8.2, -0.55), (8.5, -0.6), (8.9, -1.3), (11, -1.35), (13.8, -1.6), (14.15, -1.0), (14.4, -1.4), (14.6, -1.0), (15.1, -1.7), (17, -1.65), (20, -1.75)],
    [(0, 0), (1, -0.15), (2, -0.4), (3.5, -0.55), (5, -0.6), (7, -0.7), (8.2, -0.75), (8.5, -0.8), (8.9, -1.45), (11, -1.5), (13.8, -1.8), (14.15, -1.2), (14.4, -1.6), (14.6, -1.2), (15.1, -1.9), (17, -1.85), (20, -1.95)],
    [(0, 0), (1, -0.18), (2, -0.5), (3.5, -0.7), (5, -0.8), (7, -0.9), (8.2, -0.95), (8.5, -1.0), (8.9, -1.6), (11, -1.7), (13.8, -2.0), (14.15, -1.4), (14.4, -1.8), (14.6, -1.4), (15.1, -2.1), (17, -2.05), (20, -2.15)],
    [(0, 0), (1, -0.2), (2, -0.6), (3.5, -0.85), (5, -1.0), (7, -1.1), (8.2, -1.15), (8.5, -1.2), (8.9, -1.8), (11, -1.9), (13.8, -2.2), (14.15, -1.6), (14.4, -2.0), (14.6, -1.6), (15.1, -2.3), (17, -2.3), (20, -2.4)],
    [(0, 0), (1, -0.25), (2, -0.7), (3.5, -1.0), (5, -1.2), (7, -1.35), (8.2, -1.4), (8.5, -1.45), (8.9, -2.0), (11, -2.1), (13.8, -2.45), (14.15, -1.8), (14.4, -2.2), (14.6, -1.8), (15.1, -2.5), (17, -2.5), (20, -2.6)],
    [(0, 0), (1, -0.3), (2, -0.8), (3.5, -1.3), (5, -1.6), (7, -1.9), (8.3, -2.0), (8.6, -2.0), (9, -2.4), (11, -2.6), (13.8, -3.0), (14.15, -2.3), (14.4, -2.8), (14.6, -2.4), (15.2, -3.1), (17, -3.1), (20, -3.3)],
    [(0, 0), (1, -0.35), (2, -0.9), (3.5, -1.45), (5, -1.8), (7, -2.1), (8.3, -2.2), (8.6, -2.2), (9, -2.6), (11, -2.8), (13.8, -3.2), (14.15, -2.5), (14.4, -3.0), (14.6, -2.6), (15.2, -3.4), (17, -3.5), (20, -3.7)],
    [(0, 0), (1, -0.4), (2, -1.0), (3.5, -1.6), (5, -2.0), (7, -2.3), (8.3, -2.4), (8.6, -2.4), (9, -2.8), (11, -3.0), (13.8, -3.3), (14.15, -2.6), (14.4, -3.1), (14.6, -2.7), (15.2, -3.6), (17, -3.8), (20, -4.1)],
    [(0, 0), (1, -0.42), (2, -1.05), (3.5, -1.7), (5, -2.1), (7, -2.4), (8.3, -2.5), (8.6, -2.5), (9, -2.9), (11, -3.1), (13.8, -3.4), (14.15, -2.7), (14.4, -3.2), (14.6, -2.8), (15.2, -3.8), (17, -4.1), (20, -4.4)],
    [(0, 0), (1, -0.45), (2, -1.1), (3.5, -1.8), (5, -2.2), (7, -2.5), (8.3, -2.6), (8.6, -2.6), (9, -3.0), (11, -3.2), (13.8, -3.45), (14.15, -2.8), (14.4, -3.3), (14.6, -2.9), (15.2, -3.9), (17, -4.3), (20, -4.7)],
    [(0, 0), (1, -0.47), (2, -1.15), (3.5, -1.85), (5, -2.3), (7, -2.6), (8.3, -2.7), (8.6, -2.7), (9, -3.1), (11, -3.3), (13.8, -3.5), (14.15, -2.9), (14.4, -3.4), (14.6, -3.0), (15.2, -4.0), (17, -4.5), (20, -5.0)],
]
F_MAGENTA = [
    [(0, 0), (2, -0.6), (5, -1.2), (8, -1.6), (13.8, -2.3), (14.2, -1.9), (14.6, -2.3), (20, -2.8)],
    [(0, 0), (2, -1.0), (5, -2.3), (8, -3.6), (8.4, -3.5), (9, -4.0), (12, -4.5), (14, -4.8), (15, -5.0), (20, -5.3)],
    [(0, 0), (2, -1.3), (5, -2.9), (8, -4.3), (8.4, -4.1), (9, -4.8), (12, -5.7), (13.8, -6.2), (14.2, -5.4), (14.4, -5.9), (14.6, -5.5), (15.2, -6.5), (17, -7.3), (20, -8.3)],
    [(0, 0), (2, -1.5), (5, -3.5), (8, -5.0), (8.4, -4.9), (9, -5.6), (12, -6.6), (13.8, -7.1), (14.2, -6.3), (14.6, -6.5), (15.2, -7.3), (17, -7.9), (20, -8.7)],
    [(0, 0), (2, -1.8), (5, -4.1), (8, -6.0), (8.5, -5.9), (9, -6.6), (12, -7.6), (13.8, -8.2), (14.2, -7.4), (14.6, -7.7), (15.2, -8.4), (17, -8.8), (20, -9.0)],
    [(0, 0), (2, -2.2), (5, -5.0), (8, -7.3), (8.5, -7.2), (9, -8.0), (12, -9.2), (13.8, -9.7), (14.2, -8.7), (14.6, -9.3), (15.2, -9.7), (17, -9.8), (20, -10.0)],
    [(0, 0), (2, -2.0), (5, -4.5), (8, -7.3), (10, -8.8), (13.8, -11.9), (14.2, -11.4), (14.6, -12.0), (16, -13.4), (17.5, -14.6), (18.5, -15.3), (19.5, -15.3), (19.51, -14.9), (20, -14.9)],
    [(0, 0), (2, -2.3), (5, -5.3), (8, -8.4), (10, -10.3), (13.8, -13.5), (14.2, -12.9), (14.6, -13.6), (15.3, -14.6), (15.7, -15.7), (16.2, -15.8)],
    [(0, 0), (3, -3.8), (6, -7.8), (9, -11.5), (11, -13.5), (12, -14.3), (13, -14.8), (14, -14.8), (14.5, -15.4), (15, -15.9), (15.5, -15.9)],
    [(0, 0), (3, -4.5), (6, -9.2), (8.3, -12.3), (9, -13.5), (10, -14.6), (12, -14.8), (13.6, -14.8)],
    [(0, 0), (2, -3.4), (4, -7.1), (6, -10.7), (7, -12.3), (8.5, -14.2), (9.3, -14.8), (10.3, -14.8)],
    [(0, 0), (2, -3.8), (4, -8.0), (6, -11.8), (7, -13.4), (8, -14.6), (8.3, -14.9), (9.5, -14.9), (11, -15.5), (11.01, -16.9)],
    [(0, 0), (2, -4.3), (4, -9.0), (5.5, -12.4), (6.3, -14.0), (6.8, -14.8), (7.2, -14.8)],
    [(0, 0), (2, -4.8), (4, -10.0), (5, -12.5), (5.8, -14.3), (6.2, -14.8), (6.6, -14.8)],
    [(0, 0), (1, -1.8), (2, -4.1), (3, -6.9), (4, -10.2), (5, -13.6), (5.4, -14.8), (5.9, -14.8)],
    [(0, 0), (1, -2.0), (2, -4.5), (3, -7.6), (4, -11.4), (4.9, -14.8), (5.2, -15.4)],
    [(0, 0), (1, -2.2), (2, -4.9), (3, -8.2), (4, -12.2), (4.6, -14.6), (5.0, -15.5)],
    [(0, 0), (1, -2.4), (2, -5.2), (3, -8.7), (3.8, -12.3), (4.2, -14.5), (4.5, -16.5)],
    [(0, 0), (1, -2.6), (2, -5.5), (3, -9.2), (3.7, -12.6), (4.1, -14.8), (4.3, -15.6)],
]
F_YELLOW = [
    [(0, 0), (1, -3.9), (2, -9.2), (2.6, -13.2), (2.8, -14.8), (2.9, -16.2), (3.2, -16.2)],
    [(0, 0), (1, -3.6), (2, -8.6), (2.7, -12.9), (3.0, -14.8), (3.1, -16.0), (3.3, -16.3)],
    [(0, 0), (1, -3.3), (2, -8.0), (2.8, -12.6), (3.2, -14.7), (3.45, -14.7), (3.46, -16.5)],
    [(0, 0), (1, -3.1), (2, -7.6), (2.9, -12.5), (3.3, -14.6), (3.5, -16.5)],
]
F_BLACK = [
    [(0, 0), (1, -0.15), (2, -0.4), (3, -0.8), (4, -1.3), (5, -1.6), (6, -1.65), (7, -1.7), (8, -1.8), (9, -1.9), (11, -2.1), (13.8, -2.45), (14.2, -1.95), (14.6, -2.4), (15, -2.3), (17, -2.4), (20, -2.6)],
    [(0, 0), (1, -0.6), (2, -1.2), (3, -1.7), (5, -2.6), (6, -3.2), (8, -3.9), (8.4, -3.75), (9.1, -4.5), (11, -5.0), (13.7, -5.5), (14.2, -4.9), (14.4, -5.3), (14.6, -5.0), (15.2, -6.0), (17, -6.7), (20, -7.75)],
    [(0, 0), (1, -0.6), (2, -1.2), (3, -1.7), (5, -2.6), (6, -3.2), (8, -3.9), (8.4, -3.75), (9.1, -4.5), (11, -5.0), (13.7, -5.5), (14.2, -4.9), (14.4, -5.3), (14.6, -5.0), (15.2, -6.3), (17, -7.6), (20, -9.45)],
    [(0, 0), (1, -0.6), (2, -1.2), (3, -1.7), (5, -2.6), (6, -3.2), (8, -3.9), (8.4, -3.8), (9.1, -4.6), (10, -5.1), (12, -6.3), (13.7, -7.6), (14.1, -7.3), (14.3, -7.8), (14.6, -7.4), (15.2, -8.5), (17, -9.9), (20, -12.25)],
]

# ---------------- panel geometry (plot areas) ----------------
LW = 402
RW = 403
HEIGHTS = [(306, 315), (310, 316), (311, 316)]

AXIS_COMMON = dict(tickSize=0, domain=False, grid=False, labelFont=FONT, labelFontSize=16,
                   labelColor=INK, titleFont=FONT, titleFontSize=17, titleFontWeight="normal",
                   titleColor=INK)


def inner_ticks(xf, yf, xvals, yvals, X, Y, W, H, L=5):
    xt = pd.DataFrame({xf: xvals})
    yt = pd.DataFrame({yf: yvals})
    base = dict(color=INK, strokeWidth=1)
    return [
        alt.Chart(xt).mark_rule(**base).encode(x=X, y=alt.value(H), y2=alt.value(H - L)),
        alt.Chart(xt).mark_rule(**base).encode(x=X, y=alt.value(0), y2=alt.value(L)),
        alt.Chart(yt).mark_rule(**base).encode(y=Y, x=alt.value(0), x2=alt.value(L)),
        alt.Chart(yt).mark_rule(**base).encode(y=Y, x=alt.value(W), x2=alt.value(W - L)),
    ]


def caption(text, W, y):
    return alt.Chart(pd.DataFrame({"cap": [text]})).mark_text(
        font=SERIF, fontSize=18, color=INK, baseline="middle", align="center"
    ).encode(x=alt.value(W / 2 - 8), y=alt.value(y), text="cap:N")


def pareto_panel(series, H, legend_xy, cap, extras=()):
    rows = []
    for s in series:
        for a, b in zip(s["f1"], s["f2"]):
            rows.append({"f1": a, "f2": b, "series": s["name"], "z": s["z"]})
    df = pd.DataFrame(rows).sort_values("z", kind="stable")
    names = [s["name"] for s in series]
    X = alt.X("f1:Q", scale=alt.Scale(domain=[0, 50], nice=False, zero=False),
              axis=alt.Axis(values=F1_TICKS, title="f\u2081", labelPadding=7, titlePadding=6,
                            **AXIS_COMMON))
    Y = alt.Y("f2:Q", scale=alt.Scale(domain=[0, 1], nice=False, zero=False),
              axis=alt.Axis(values=F2_TICKS, format="~g", title="f\u2082", labelPadding=5,
                            titlePadding=2, **AXIS_COMMON))
    leg = alt.Legend(orient="none", legendX=legend_xy[0], legendY=legend_xy[1], title=None,
                     labelFont=FONT, labelFontSize=15, labelColor="#111", labelLimit=0,
                     strokeColor="#333", fillColor="white", padding=6, symbolOffset=12,
                     labelOffset=13, rowPadding=legend_xy[2], symbolStrokeWidth=1.2,
                     cornerRadius=0)
    pts_layer = alt.Chart(df).mark_point(opacity=1, strokeWidth=1.2).encode(
        x=X, y=Y,
        shape=alt.Shape("series:N", scale=alt.Scale(domain=names, range=[s["shape"] for s in series]), legend=leg),
        fill=alt.Fill("series:N", scale=alt.Scale(domain=names, range=[s["fill"] for s in series]), legend=leg),
        stroke=alt.Stroke("series:N", scale=alt.Scale(domain=names, range=[s["stroke"] for s in series]), legend=leg),
        size=alt.Size("series:N", scale=alt.Scale(domain=names, range=[s["size"] for s in series]), legend=leg),
        order=alt.Order("z:Q"),
    )
    layers = inner_ticks("f1", "f2", F1_TICKS, F2_TICKS, X, Y, LW, H)
    layers.append(pts_layer)
    for ex in extras:
        layers.append(ex(X, Y))
    layers.append(caption(cap, LW, 380 if H < 312 else 376))
    return alt.layer(*layers).properties(width=LW, height=H)


def paths_frame(paths):
    rows = []
    for i, p in enumerate(paths):
        for j, (t, y) in enumerate(p):
            rows.append({"id": i, "ord": j, "t": t, "y": y})
    return pd.DataFrame(rows)


def fan_frame(curves, shoulders, shifts):
    """Each trace: start, then per early zero (top, shoulder, zero, shoulder), then later samples."""
    times = D_HEAD_T + D_TAIL_T
    rows = []
    for i, (c, sh) in enumerate(zip(curves, shoulders)):
        seq = [c[0]]
        for k in range(7):
            for src, idx in ((c, 2 * k + 1), (sh, 2 * k), (c, 2 * k + 2), (sh, 2 * k + 1)):
                seq.append(src[idx] if idx < len(src) else None)
        seq.append(c[15] if len(c) > 15 else None)
        seq.extend(c[16:])
        for j, (t, y) in enumerate(zip(times, seq)):
            if y is None:
                break
            rows.append({"id": i, "ord": j, "t": t + (shifts[i] if j else 0.0), "y": y})
    return pd.DataFrame(rows)


def trace_panel(groups, H, cap, cap_y):
    X = alt.X("t:Q", scale=alt.Scale(domain=[0, 20], nice=False, zero=False),
              axis=alt.Axis(values=T_TICKS, title="t", labelPadding=8, titlePadding=4,
                            **AXIS_COMMON))
    Y = alt.Y("y:Q", scale=alt.Scale(domain=[-20, 5], nice=False, zero=False),
              axis=alt.Axis(values=E_TICKS, title="Synchronization error", labelPadding=3,
                            titlePadding=0, **AXIS_COMMON))
    layers = inner_ticks("t", "y", T_TICKS, E_TICKS, X, Y, RW, H)
    for df, color, width, interp, op in groups:
        layers.append(
            alt.Chart(df).mark_line(color=color, strokeWidth=width, interpolate=interp,
                                    opacity=op, clip=True)
            .encode(x=X, y=Y, detail="id:N", order="ord:Q")
        )
    layers.append(caption(cap, RW, cap_y))
    return alt.layer(*layers).properties(width=RW, height=H)


def special(df_points, shape, color, size):
    def build(X, Y):
        return alt.Chart(df_points).mark_point(shape=shape, filled=True, color=color, size=size,
                                               opacity=1).encode(x=X, y=Y)
    return build


def label(f1, f2, text, dx, dy, size=12):
    def build(X, Y):
        return alt.Chart(pd.DataFrame({"f1": [f1], "f2": [f2], "txt": [text]})).mark_text(
            font=FONT, fontSize=size, color=INK, align="left", baseline="middle", dx=dx, dy=dy
        ).encode(x=X, y=Y, text="txt:N")
    return build


def pts(*xy):
    return pd.DataFrame({"f1": [p[0] for p in xy], "f2": [p[1] for p in xy]})


# ---------------- assemble panels ----------------
panel_a = pareto_panel(
    [
        {"name": "Control one dimension", "f1": A_ONE_F1, "f2": A_ONE_F2, "shape": ASTERISK,
         "fill": "transparent", "stroke": ORANGE, "size": 45, "z": 3},
        {"name": "Control two dimensions", "f1": A_TWO_F1, "f2": A_TWO_F2, "shape": "square",
         "fill": BLUE, "stroke": BLUE, "size": 50, "z": 1},
        {"name": "Control three dimensions", "f1": A_THREE_F1, "f2": A_THREE_F2, "shape": DIAMOND,
         "fill": MAGENTA, "stroke": MAGENTA, "size": 72, "z": 2},
    ],
    HEIGHTS[0][0], (185, 8, 6), "(a)",
)

panel_c = pareto_panel(
    [
        {"name": "Case I", "f1": C_ONE_F1, "f2": C_ONE_F2, "shape": ASTERISK,
         "fill": "transparent", "stroke": ORANGE, "size": 45, "z": 2},
        {"name": "Case III", "f1": C_THREE_F1, "f2": C_THREE_F2, "shape": DIAMOND,
         "fill": MAGENTA, "stroke": MAGENTA, "size": 72, "z": 1},
    ],
    HEIGHTS[1][0], (302, 6, 4), "(c)",
    extras=[
        special(pts(C_A1), "square", GREEN, 50),
        special(pts(C_A2), "circle", GREEN, 70),
        special(pts(C_B1), "square", BLACK, 50),
        label(*C_A1, "A1", 9, -2),
        label(*C_A2, "A2", 7, 2),
        label(*C_B1, "B1", 6, 1),
    ],
)

panel_e = pareto_panel(
    [
        {"name": "Control two dimensions", "f1": E_TWO_F1, "f2": E_TWO_F2, "shape": "square",
         "fill": BLUE, "stroke": BLUE, "size": 50, "z": 1},
        {"name": "Control three dimensions", "f1": E_THREE_F1, "f2": E_THREE_F2, "shape": DIAMOND,
         "fill": MAGENTA, "stroke": MAGENTA, "size": 72, "z": 2},
        {"name": "Control Four dimensions", "f1": E_FOUR_F1, "f2": E_FOUR_F2, "shape": STAR,
         "fill": YELLOW, "stroke": YELLOW, "size": 45, "z": 3},
    ],
    HEIGHTS[2][0], (186, 6, 4), "(e)",
    extras=[
        special(pts(E_MARKS["B3"]), "triangle-right", BLACK, 50),
        special(pts(E_MARKS["C3"]), "triangle-right", CYAN, 50),
        special(pts(E_MARKS["B5"]), "triangle-left", BLACK, 50),
        special(pts(E_MARKS["C4"]), "triangle-left", CYAN, 50),
        special(pts(E_MARKS["C2"]), "triangle-left", CYAN, 50),
        special(pts(E_MARKS["D1"]), "circle", BLUE, 55),
        label(*E_MARKS["B3"], "B3", -1, -10),
        label(*E_MARKS["C3"], "C3", 7, -1),
        label(*E_MARKS["B5"], "B5", -2, -11),
        label(*E_MARKS["C4"], "C4", 6, -3),
        label(*E_MARKS["C2"], "C2", 20, -7),
        label(*E_MARKS["D1"], "D1", 5, 8),
    ],
)

panel_b = trace_panel(
    [
        (paths_frame(B_BLUE), BLUE, 0.9, "linear", 0.9),
        (paths_frame(B_MAGENTA), MAGENTA, 0.9, "linear", 0.9),
        (paths_frame(B_ORANGE), ORANGE, 1.0, "linear", 0.95),
    ],
    HEIGHTS[0][1], "(b)", 380,
)

panel_d = trace_panel(
    [
        (fan_frame(D_FAN, D_FAN_SHOULDERS, D_FAN_SHIFT), MAGENTA, 0.8, "monotone", 0.85),
        (paths_frame(D_MAGENTA_TOP), MAGENTA, 0.9, "monotone", 0.9),
        (paths_frame(D_RED), RED, 0.9, "monotone", 0.95),
        (paths_frame(D_BLACK), BLACK, 2.6, "monotone", 1.0),
    ],
    HEIGHTS[1][1], "(d)", 379,
)

panel_f = trace_panel(
    [
        (paths_frame(F_BLUE), BLUE, 0.9, "linear", 0.9),
        (paths_frame(F_MAGENTA), MAGENTA, 0.9, "linear", 0.9),
        (paths_frame(F_YELLOW), YELLOW, 1.0, "linear", 1.0),
        (paths_frame(F_BLACK), BLACK, 2.8, "linear", 1.0),
    ],
    HEIGHTS[2][1], "(f)", 372,
)

chart = (
    alt.concat(panel_a, panel_b, panel_c, panel_d, panel_e, panel_f, columns=2,
               spacing={"row": 94, "column": 94}, bounds="flush")
    .resolve_scale(x="independent", y="independent", shape="independent",
                   fill="independent", stroke="independent", size="independent")
    .resolve_legend(shape="independent", fill="independent", stroke="independent",
                    size="independent")
    .properties(padding={"left": 10, "top": 9, "right": 5, "bottom": 5}, background="white")
    .configure_view(stroke=INK, strokeWidth=1)
)

chart.save("out.html", embed_options={"renderer": "svg", "actions": False})
